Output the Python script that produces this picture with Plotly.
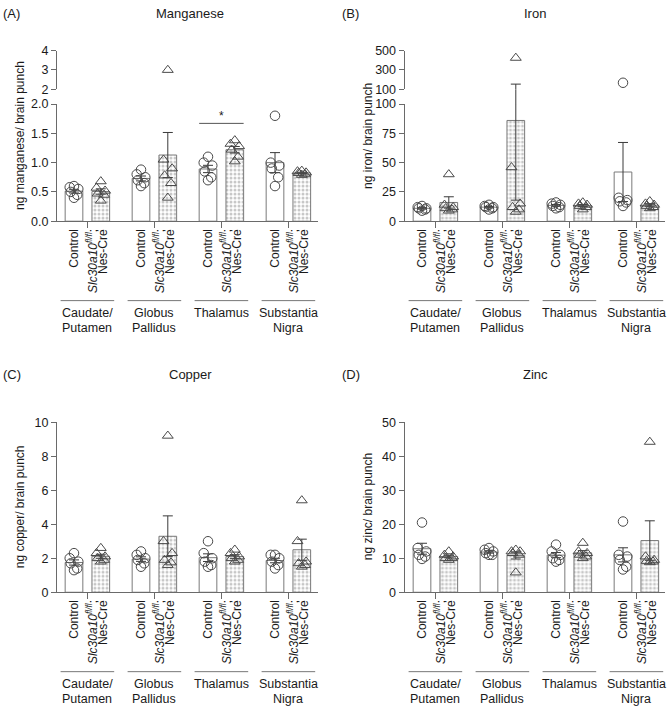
import numpy as np
import plotly.graph_objects as go

# ---------------- data ----------------
region_lines = [["Caudate/", "Putamen"], ["Globus", "Pallidus"], ["Thalamus"], ["Substantia", "Nigra"]]
control_label = "Control"
ko_label_1 = "<i>Slc30a10</i><sup><i>fl/fl</i></sup>;"
ko_label_2 = "Nes-Cre"

# values per region (Caudate/Putamen, Globus Pallidus, Thalamus, Substantia Nigra)
mn_control = [[0.60, 0.58, 0.55, 0.50, 0.45, 0.40],
              [0.88, 0.80, 0.75, 0.70, 0.65, 0.60],
              [1.10, 1.00, 0.95, 0.85, 0.75, 0.70],
              [1.80, 1.00, 0.95, 0.90, 0.75, 0.60]]
mn_ko = [[0.68, 0.57, 0.52, 0.47, 0.45, 0.35],
         [3.00, 1.05, 0.90, 0.78, 0.65, 0.40],
         [1.38, 1.32, 1.28, 1.22, 1.10, 1.02],
         [0.86, 0.85, 0.83, 0.82, 0.80, 0.79]]
fe_control = [[13, 12, 11, 11, 10, 9],
              [14, 13, 12, 12, 11, 10],
              [16, 15, 14, 13, 12, 11],
              [168, 20, 18, 17, 16, 13]]
fe_ko = [[40, 14, 12, 11, 10, 9],
         [425, 46, 15, 12, 10, 8],
         [16, 15, 14, 13, 12, 10],
         [17, 15, 14, 13, 12, 11]]
cu_control = [[2.3, 2.0, 1.8, 1.7, 1.4, 1.3],
              [2.4, 2.2, 2.0, 1.9, 1.7, 1.5],
              [3.0, 2.3, 2.0, 1.8, 1.6, 1.5],
              [2.2, 2.2, 2.0, 1.8, 1.6, 1.4]]
cu_ko = [[2.6, 2.3, 2.1, 2.0, 1.9, 1.8],
         [9.2, 3.0, 2.3, 1.9, 1.75, 1.6],
         [2.5, 2.3, 2.1, 2.0, 1.9, 1.8],
         [5.4, 3.0, 1.8, 1.7, 1.6, 1.5]]
zn_control = [[20.5, 13, 12, 11, 10.5, 9.8],
              [13, 12.5, 12, 11.5, 11, 11],
              [14, 12, 11, 10, 9.5, 9],
              [20.8, 11, 10.5, 9.5, 7.5, 6.7]]
zn_ko = [[12, 11, 10.5, 10, 10, 9.5],
         [12.5, 12, 12, 11.5, 11, 5.8],
         [14.5, 12, 11.5, 11, 10.5, 10],
         [44.2, 10.5, 9.5, 9.2, 9, 8.8]]

mn_sig_level = 1.67  # Thalamus comparison bracket

panels = [
    dict(tag="(A)", title="Manganese", ytitle="ng manganese/ brain punch",
         control=mn_control, ko=mn_ko,
         lower=[0, 2], lower_ticks=[0, 0.5, 1.0, 1.5, 2.0], lower_text=["0.0", "0.5", "1.0", "1.5", "2.0"],
         upper=[2, 4], upper_ticks=[2, 3, 4], upper_text=["2", "3", "4"], sig=(2, mn_sig_level)),
    dict(tag="(B)", title="Iron", ytitle="ng iron/ brain punch",
         control=fe_control, ko=fe_ko,
         lower=[0, 100], lower_ticks=[0, 25, 50, 75, 100], lower_text=["0", "25", "50", "75", "100"],
         upper=[100, 500], upper_ticks=[100, 300, 500], upper_text=["100", "300", "500"], sig=None),
    dict(tag="(C)", title="Copper", ytitle="ng copper/ brain punch",
         control=cu_control, ko=cu_ko,
         lower=[0, 10], lower_ticks=[0, 2, 4, 6, 8, 10], lower_text=["0", "2", "4", "6", "8", "10"],
         upper=None, sig=None),
    dict(tag="(D)", title="Zinc", ytitle="ng zinc/ brain punch",
         control=zn_control, ko=zn_ko,
         lower=[0, 50], lower_ticks=[0, 10, 20, 30, 40, 50], lower_text=["0", "10", "20", "30", "40", "50"],
         upper=None, sig=None),
]

# ---------------- layout geometry (pixels) ----------------
W, H = 669, 712
FONT = "Liberation Sans, Arial, sans-serif"
TXT = "#1a1a1a"
AX = "#6a6a6a"
BAR_LINE = "#7a7a7a"
MK = "#4a4a4a"

col_x = [(57, 318), (404.5, 665)]
row_geom = [dict(lower=(218.5, 99), upper=(84, 44.5), title_y=7),
            dict(lower=(597, 423.5), upper=None, title_y=375)]
title_x = [190, 535]
tag_x = [1, 340]
ytitle_x = [20, 368]

group_pos = [0.0, 2.5, 5.0, 7.5]
ctrl_pos = [g for g in group_pos]
ko_pos = [g + 1.0 for g in group_pos]
unit_px = 26.8
first_px = [74, 422]
bar_w = 0.66
jitter = [0.0, -0.16, 0.16, -0.12, 0.12, 0.0]


def px(x):
    return x / W


def py(y):
    return 1 - y / H


fig = go.Figure()
layout = dict(width=W, height=H, margin=dict(l=0, r=0, t=0, b=0),
              paper_bgcolor="white", plot_bgcolor="rgba(0,0,0,0)",
              showlegend=False, barmode="overlay", font=dict(family=FONT, size=12, color=TXT))
annotations = []
shapes = []

axis_common = dict(showgrid=False, zeroline=False, showline=True, linecolor=AX, linewidth=1,
                   ticks="outside", tickcolor=AX, ticklen=5, tickwidth=1,
                   tickfont=dict(family=FONT, size=12.5, color=TXT))

yidx = 0
for pi, p in enumerate(panels):
    row, col = pi // 2, pi % 2
    g = row_geom[row]
    x0px, x1px = col_x[col]
    xname = "x" if pi == 0 else f"x{pi + 1}"
    xkey = "xaxis" if pi == 0 else f"xaxis{pi + 1}"
    lo = (x0px - first_px[col]) / unit_px
    hi = (x1px - first_px[col]) / unit_px

    yidx += 1
    ylow = "y" if yidx == 1 else f"y{yidx}"
    ylow_key = "yaxis" if yidx == 1 else f"yaxis{yidx}"
    seg_axes = [(ylow, ylow_key, p["lower"], p["lower_ticks"], p["lower_text"], g["lower"])]
    if p["upper"] is not None:
        yidx += 1
        yup = f"y{yidx}"
        yup_key = f"yaxis{yidx}"
        seg_axes.append((yup, yup_key, p["upper"], p["upper_ticks"], p["upper_text"], g["upper"]))

    layout[xkey] = dict(axis_common, domain=[px(x0px), px(x1px)], range=[lo, hi], anchor=ylow,
                        tickvals=[gp + 0.5 for gp in group_pos], showticklabels=False, ticklen=6)

    c_vals = [np.array(v, float) for v in p["control"]]
    k_vals = [np.array(v, float) for v in p["ko"]]
    c_mean = [v.mean() for v in c_vals]
    k_mean = [v.mean() for v in k_vals]
    c_sem = [v.std(ddof=1) / np.sqrt(len(v)) for v in c_vals]
    k_sem = [v.std(ddof=1) / np.sqrt(len(v)) for v in k_vals]

    for si, (yn, ykey, rng, tv, tt, (ybot, ytop)) in enumerate(seg_axes):
        layout[ykey] = dict(axis_common, domain=[py(ybot), py(ytop)], range=rng, anchor=xname,
                            tickvals=tv, ticktext=tt)
        err = dict(type="data", symmetric=True, color="#3a3a3a", thickness=1, width=5)
        fig.add_trace(go.Bar(x=ctrl_pos, y=c_mean, width=bar_w, xaxis=xname, yaxis=yn,
                             marker=dict(color="white", line=dict(color=BAR_LINE, width=1)),
                             error_y=dict(err, array=c_sem)))
        fig.add_trace(go.Bar(x=ko_pos, y=k_mean, width=bar_w, xaxis=xname, yaxis=yn,
                             marker=dict(color="white", line=dict(color=BAR_LINE, width=1),
                                         pattern=dict(shape=".", fgcolor="#8f8f8f", bgcolor="white",
                                                      size=4, solidity=0.45)),
                             error_y=dict(err, array=k_sem)))
        for pos_list, vals, sym in ((ctrl_pos, c_vals, "circle-open"), (ko_pos, k_vals, "triangle-up-open")):
            xs, ys = [], []
            for gpos, v in zip(pos_list, vals):
                for j, val in enumerate(v):
                    # each point belongs to the segment whose range holds it
                    if si == 0 and val > rng[1]:
                        continue
                    if si == 1 and val < rng[0]:
                        continue
                    xs.append(gpos + jitter[j % len(jitter)])
                    ys.append(val)
            fig.add_trace(go.Scatter(x=xs, y=ys, mode="markers", xaxis=xname, yaxis=yn,
                                     marker=dict(symbol=sym, size=9.5, color=MK, line=dict(width=1, color=MK))))

    # continue error bars through the axis break
    if p["upper"] is not None:
        (ybot, ytop) = g["lower"]
        (ubot, utop) = g["upper"]
        gap_frac = (ytop - ubot) / (ybot - ytop)
        for pos_list, means, sems in ((ctrl_pos, c_mean, c_sem), (ko_pos, k_mean, k_sem)):
            for xp, m, s in zip(pos_list, means, sems):
                if m + s > p["lower"][1]:
                    shapes.append(dict(type="line", xref=xname, yref=f"{ylow} domain",
                                       x0=xp, x1=xp, y0=1, y1=1 + gap_frac,
                                       line=dict(color="#3a3a3a", width=1)))

    # significance bracket
    if p["sig"] is not None:
        gi, lvl = p["sig"]
        shapes.append(dict(type="line", xref=xname, yref=ylow, x0=ctrl_pos[gi] - 0.33, x1=ko_pos[gi] + 0.33,
                           y0=lvl, y1=lvl, line=dict(color="#555", width=1)))
        annotations.append(dict(text="*", xref=xname, yref=ylow, x=(ctrl_pos[gi] + ko_pos[gi]) / 2, y=lvl,
                                yanchor="bottom", xanchor="center", showarrow=False, yshift=-2,
                                font=dict(size=12, color=TXT)))

    # x labels
    axis_y = py(g["lower"][0])
    for i in range(4):
        annotations.append(dict(text=control_label, xref=xname, yref="paper", x=ctrl_pos[i], y=axis_y,
                                yshift=-6, textangle=-90, xanchor="center", yanchor="top", showarrow=False,
                                font=dict(size=12, color=TXT)))
        annotations.append(dict(text=ko_label_1, xref=xname, yref="paper", x=ko_pos[i], y=axis_y,
                                yshift=-6, xshift=-9, textangle=-90, xanchor="center", yanchor="top",
                                showarrow=False, font=dict(size=12, color=TXT)))
        annotations.append(dict(text=ko_label_2, xref=xname, yref="paper", x=ko_pos[i], y=axis_y,
                                yshift=-6, xshift=1.5, textangle=-90, xanchor="center", yanchor="top",
                                showarrow=False, font=dict(size=12, color=TXT)))
        gc = group_pos[i] + 0.5
        shapes.append(dict(type="line", xref=xname, yref="paper", x0=gc - 1.0, x1=gc + 1.0,
                           y0=py(g["lower"][0] + 81), y1=py(g["lower"][0] + 81),
                           line=dict(color="#777", width=1)))
        for li, line_txt in enumerate(region_lines[i]):
            annotations.append(dict(text=line_txt, xref=xname, yref="paper", x=gc,
                                    y=py(g["lower"][0] + 93.5 + 15 * li), xanchor="center", yanchor="middle",
                                    showarrow=False, font=dict(size=12.5, color=TXT)))

    # titles
    annotations.append(dict(text=p["title"], xref="paper", yref="paper", x=px(title_x[col]), y=py(g["title_y"]),
                            xanchor="center", yanchor="middle", showarrow=False, font=dict(size=13, color=TXT)))
    annotations.append(dict(text=p["tag"], xref="paper", yref="paper", x=px(tag_x[col]), y=py(g["title_y"]),
                            xanchor="left", yanchor="middle", showarrow=False, font=dict(size=13, color=TXT)))
    ytop_all = g["upper"][1] if g["upper"] is not None else g["lower"][1]
    annotations.append(dict(text=p["ytitle"], xref="paper", yref="paper", x=px(ytitle_x[col]),
                            y=py((g["lower"][0] + ytop_all) / 2), textangle=-90,
                            xanchor="center", yanchor="middle", showarrow=False, font=dict(size=12, color=TXT)))

layout["annotations"] = annotations
layout["shapes"] = shapes
fig.update_layout(**layout)
fig.write_html("out.html", config={"displayModeBar": False},
               post_script="document.body.style.margin='0';")
